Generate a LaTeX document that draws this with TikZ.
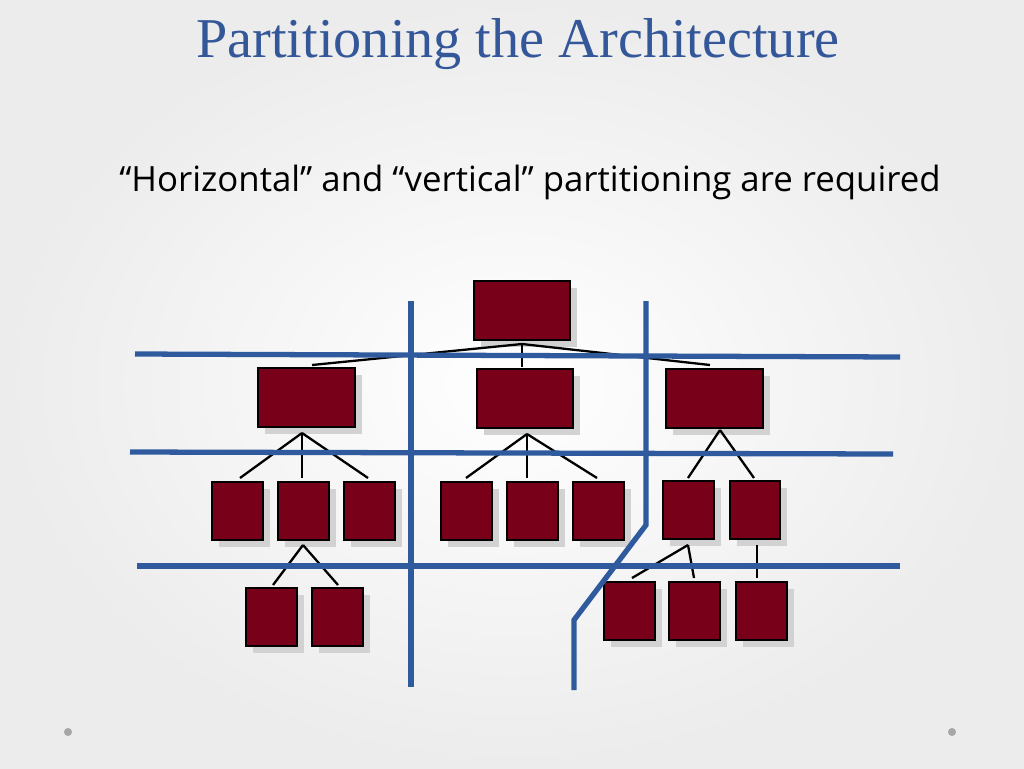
\documentclass[tikz,border=0pt]{standalone}
\usepackage{fontspec}
\setmainfont{Liberation Serif}
\newfontfamily\notefont{Open Sans}
\usetikzlibrary{shadows}
\definecolor{boxred}{HTML}{780018}
\definecolor{partblue}{HTML}{2F5B9E}
\definecolor{titleblue}{HTML}{34579A}
\tikzstyle{unit} = [draw=black, line width=1.2pt, fill=boxred,
    drop shadow={shadow xshift=4pt, shadow yshift=-4pt, fill=gray!35, opacity=1}]
\tikzstyle{part} = [draw=partblue, line width=3pt]
\tikzstyle{link} = [draw=black, line width=1.3pt]
\newcommand{\unitbox}[5]{\path[unit] (#1,#2) rectangle (#3,#4); \coordinate (#5) at ({(#1+#3)/2},{(#2+#4)/2});}

\begin{document}
\begin{tikzpicture}[x=0.02cm, y=-0.02cm]
    % Background
    \shade[inner color=white, outer color=gray!15] (0,0) rectangle (1024,768);
    \useasboundingbox (0,0) rectangle (1024,768);
    \node (title) at (518,44) {\fontsize{32}{36}\selectfont\color{titleblue}Partitioning the Architecture};
    \node (note) at (530,182) {\notefont\fontsize{19.8}{22}\selectfont “Horizontal” and “vertical” partitioning are required};

    % Place nodes
    \unitbox{474}{281}{570}{340}{top}
    \unitbox{258}{368}{355}{427}{left}
    \unitbox{477}{369}{573}{428}{mid}
    \unitbox{666}{369}{763}{428}{right}
    \unitbox{212}{482}{263}{540}{la}
    \unitbox{278}{482}{329}{540}{lb}
    \unitbox{344}{482}{395}{540}{lc}
    \unitbox{441}{482}{492}{540}{ma}
    \unitbox{507}{482}{558}{540}{mb}
    \unitbox{573}{482}{624}{540}{mc}
    \unitbox{663}{481}{714}{539}{ra}
    \unitbox{730}{481}{780}{539}{rb}
    \unitbox{246}{588}{297}{646}{lba}
    \unitbox{312}{588}{363}{646}{lbb}
    \unitbox{604}{582}{655}{640}{raa}
    \unitbox{669}{582}{720}{640}{rab}
    \unitbox{736}{582}{787}{640}{rba}

    % Draw edges
    \coordinate (topfork) at (522,344);
    \path[link] (topfork) -- (312,365);
    \path[link] (topfork) -- (522,367);
    \path[link] (topfork) -- (710,365);
    \coordinate (leftfork) at (302,433);
    \path[link] (leftfork) -- (240,478);
    \path[link] (leftfork) -- (302,478);
    \path[link] (leftfork) -- (368,478);
    \coordinate (midfork) at (527,434);
    \path[link] (midfork) -- (466,478);
    \path[link] (midfork) -- (527,478);
    \path[link] (midfork) -- (597,478);
    \coordinate (rightfork) at (720,430);
    \path[link] (rightfork) -- (688,478);
    \path[link] (rightfork) -- (754,478);
    \coordinate (lbfork) at (303,545);
    \path[link] (lbfork) -- (273,585);
    \path[link] (lbfork) -- (338,585);
    \coordinate (rafork) at (688,545);
    \path[link] (rafork) -- (632,578);
    \path[link] (rafork) -- (694,578);
    \path[link] (757,545) -- (757,578);

    % Partitions
    \path[part] (135,354) -- (900,357);
    \path[part] (130,452) -- (893,454);
    \path[part] (137,566) -- (900,566);
    \path[part] (411,301) -- (411,687);
    \path[part] (646,301) -- (646,525) -- (574,620) -- (574,690);

    \fill[gray!70] (68,732) circle (4);
    \fill[gray!70] (952,732) circle (4);
\end{tikzpicture}
\end{document}
